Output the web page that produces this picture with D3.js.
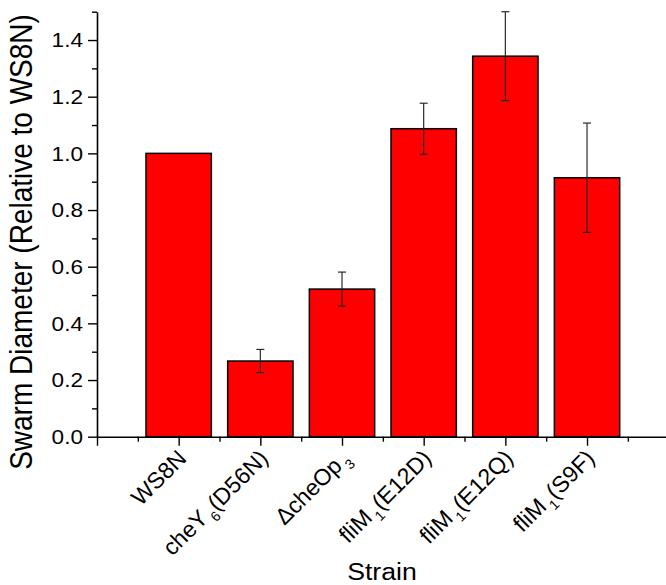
<!DOCTYPE html>
<html>
<head>
<meta charset="utf-8">
<script src="https://cdn.jsdelivr.net/npm/d3@7"></script>
<style>
  html, body { margin: 0; padding: 0; background: #fff; }
  svg { display: block; font-family: "Liberation Sans", Arial, sans-serif; }
</style>
</head>
<body>
<svg id="chart" width="666" height="585"></svg>
<script>
// ---- data ----
const labelMain = ["WS8N", "cheY", "\u0394cheOp", "fliM", "fliM", "fliM"];
const labelSub  = ["", "6", "3", "1", "1", "1"];
const labelTail = ["", "(D56N)", "", "(E12D)", "(E12Q)", "(S9F)"];
const values    = [1.000, 0.267, 0.521, 1.087, 1.343, 0.914];
const errors    = [0.000, 0.041, 0.060, 0.090, 0.157, 0.193];
const yMajorTicks = [0.0, 0.2, 0.4, 0.6, 0.8, 1.0, 1.2, 1.4];
const yMinorTicks = [0.1, 0.3, 0.5, 0.7, 0.9, 1.1, 1.3, 1.5];
const yTitle = "Swarm Diameter (Relative to WS8N)";
const xTitle = "Strain";

// ---- layout ----
const svg = d3.select("#chart");
const x0 = 97, step = 81.67, yBottom = 436.7, yTop = 11.7;
const sx = 1.13; // horizontal glyph stretch seen in the reference
const nSlots = values.length + 1;
const x = d3.scaleLinear().domain([0, nSlots]).range([x0, x0 + nSlots * step]);
const y = d3.scaleLinear().domain([0, 1.5]).range([yBottom, yTop]);
const barW = step * 0.8;
const fmt = d3.format(".1f");

// bars
svg.append("g").selectAll("rect").data(values).join("rect")
  .attr("x", (d, i) => x(i + 1) - barW / 2)
  .attr("y", d => y(d))
  .attr("width", barW)
  .attr("height", d => y(0) - y(d))
  .attr("fill", "#ff0000")
  .attr("stroke", "#000")
  .attr("stroke-width", 1.5);

// error bars
const eg = svg.append("g").attr("stroke", "#2a2a2a").attr("stroke-width", 1.2);
values.forEach((v, i) => {
  const e = errors[i];
  if (!e) return;
  const cx = x(i + 1);
  eg.append("line").attr("x1", cx).attr("x2", cx).attr("y1", y(v - e)).attr("y2", y(v + e));
  [v - e, v + e].forEach(t => {
    eg.append("line").attr("x1", cx - 4).attr("x2", cx + 4).attr("y1", y(t)).attr("y2", y(t));
  });
});

// y axis
svg.append("g").attr("transform", `translate(${x0},0)`)
  .call(d3.axisLeft(y).tickValues(yMajorTicks).tickFormat("").tickSize(9).tickSizeOuter(0));
svg.append("g").attr("transform", `translate(${x0},0)`)
  .call(d3.axisLeft(y).tickValues(yMinorTicks).tickFormat("").tickSize(5).tickSizeOuter(0))
  .select(".domain").remove();
svg.append("g").attr("font-size", 20).attr("fill", "#000").attr("text-anchor", "end")
  .selectAll("text").data(yMajorTicks).join("text")
  .attr("transform", d => `translate(${x0 - 14},${y(d)}) scale(${sx},1)`)
  .attr("dy", "0.36em")
  .text(d => fmt(d));

// x axis
const xMajor = d3.range(0, nSlots + 1);
const xMinor = d3.range(0, nSlots).map(k => k + 0.5);
svg.append("g").attr("transform", `translate(0,${yBottom})`)
  .call(d3.axisBottom(x).tickValues(xMajor).tickFormat("").tickSize(9).tickSizeOuter(0));
svg.append("g").attr("transform", `translate(0,${yBottom})`)
  .call(d3.axisBottom(x).tickValues(xMinor).tickFormat("").tickSize(5).tickSizeOuter(0))
  .select(".domain").remove();

svg.selectAll(".domain").attr("stroke", "#000").attr("stroke-width", 1.6);
svg.selectAll(".tick line").attr("stroke", "#000").attr("stroke-width", 1.4);

// x labels (rotated)
const lg = svg.append("g").attr("font-size", 23).attr("fill", "#000");
labelMain.forEach((m, i) => {
  const px = x(i + 1) + 9, py = yBottom + 23;
  const t = lg.append("text")
    .attr("transform", `translate(${px},${py}) rotate(-45)`)
    .attr("text-anchor", "end");
  t.append("tspan").text(m);
  if (labelSub[i]) {
    t.append("tspan").attr("font-size", 14).attr("dx", 3).attr("dy", 7).text(labelSub[i]);
    t.append("tspan").attr("dy", -7).text(labelTail[i]);
  }
});

// titles
svg.append("text")
  .attr("transform", `translate(32,242) scale(${sx},1) rotate(-90)`)
  .attr("text-anchor", "middle")
  .attr("font-size", 28)
  .attr("fill", "#000")
  .text(yTitle);
svg.append("text")
  .attr("transform", `translate(382,580) scale(1.16,1)`)
  .attr("text-anchor", "middle")
  .attr("font-size", 23)
  .attr("fill", "#000")
  .text(xTitle);
</script>
</body>
</html>
